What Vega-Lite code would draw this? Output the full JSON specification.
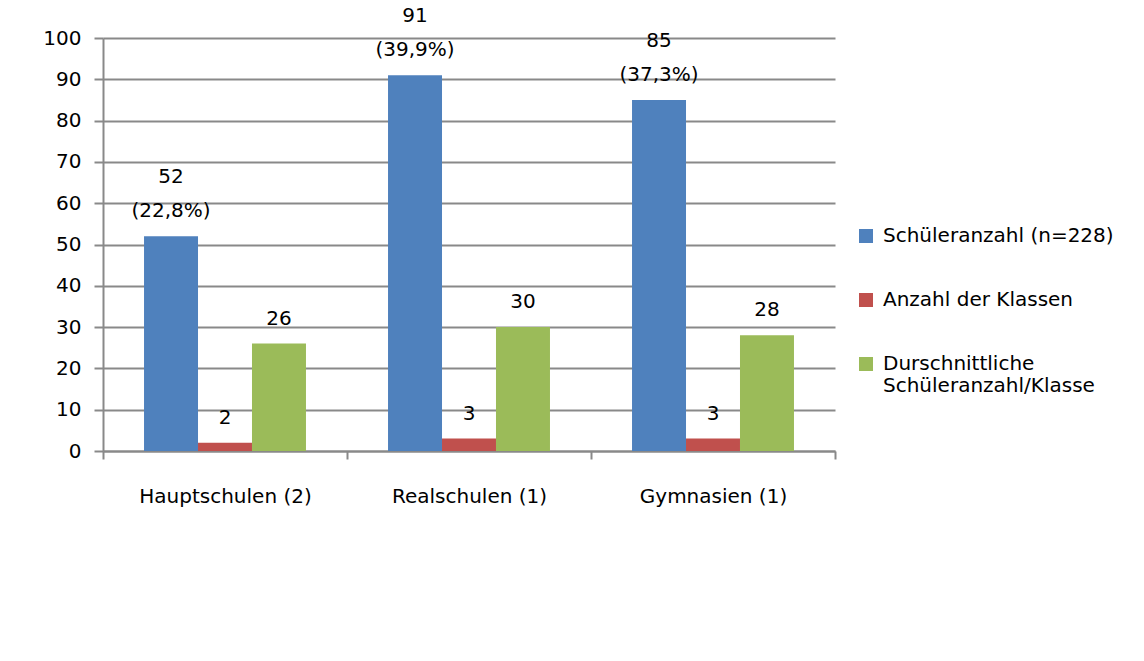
{
  "$schema": "https://vega.github.io/schema/vega-lite/v6.json",
  "autosize": {"type": "none"},
  "padding": {"left": 103, "top": 38, "right": 309, "bottom": 210},
  "width": 732,
  "height": 413,
  "background": "white",
  "config": {
    "font": "DejaVu Sans",
    "view": {"stroke": null},
    "axis": {"labelFont": "DejaVu Sans", "labelFontSize": 20, "labelColor": "#000000"},
    "legend": {"labelFont": "DejaVu Sans", "labelFontSize": 20, "labelColor": "#000000"}
  },
  "data": {
    "values": [
      {"school": "Hauptschulen (2)", "series": "Schüleranzahl (n=228)", "value": 52, "line1": "52", "line2": "(22,8%)"},
      {"school": "Hauptschulen (2)", "series": "Anzahl der Klassen", "value": 2, "line1": "", "line2": "2"},
      {"school": "Hauptschulen (2)", "series": "Durschnittliche Schüleranzahl/Klasse", "value": 26, "line1": "", "line2": "26"},
      {"school": "Realschulen (1)", "series": "Schüleranzahl (n=228)", "value": 91, "line1": "91", "line2": "(39,9%)"},
      {"school": "Realschulen (1)", "series": "Anzahl der Klassen", "value": 3, "line1": "", "line2": "3"},
      {"school": "Realschulen (1)", "series": "Durschnittliche Schüleranzahl/Klasse", "value": 30, "line1": "", "line2": "30"},
      {"school": "Gymnasien (1)", "series": "Schüleranzahl (n=228)", "value": 85, "line1": "85", "line2": "(37,3%)"},
      {"school": "Gymnasien (1)", "series": "Anzahl der Klassen", "value": 3, "line1": "", "line2": "3"},
      {"school": "Gymnasien (1)", "series": "Durschnittliche Schüleranzahl/Klasse", "value": 28, "line1": "", "line2": "28"}
    ]
  },
  "encoding": {
    "x": {
      "field": "school", "type": "nominal", "sort": null,
      "scale": {"paddingInner": 0, "paddingOuter": 0},
      "axis": {
        "title": null, "labelAngle": 0, "tickBand": "extent", "grid": false,
        "domainColor": "#898989", "domainWidth": 2,
        "tickColor": "#898989", "tickWidth": 2, "tickSize": 8,
        "labelPadding": 27
      }
    },
    "xOffset": {
      "field": "series", "type": "nominal",
      "sort": ["Schüleranzahl (n=228)", "Anzahl der Klassen", "Durschnittliche Schüleranzahl/Klasse"],
      "scale": {"paddingInner": 0, "paddingOuter": 0.76}
    },
    "y": {
      "field": "value", "type": "quantitative",
      "scale": {"domain": [0, 100], "nice": false},
      "axis": {
        "title": null, "values": [0, 10, 20, 30, 40, 50, 60, 70, 80, 90, 100],
        "grid": true, "gridColor": "#898989", "gridWidth": 2,
        "domainColor": "#898989", "domainWidth": 2,
        "tickColor": "#898989", "tickWidth": 2, "tickSize": 9,
        "labelPadding": 13
      }
    }
  },
  "layer": [
    {
      "mark": {"type": "bar"},
      "encoding": {
        "color": {
          "field": "series", "type": "nominal",
          "scale": {
            "domain": ["Schüleranzahl (n=228)", "Anzahl der Klassen", "Durschnittliche Schüleranzahl/Klasse"],
            "range": ["#4F81BD", "#C0504D", "#9BBB59"]
          },
          "legend": {
            "title": null, "orient": "none", "legendX": 753, "legendY": 188,
            "symbolType": "square", "symbolSize": 196, "symbolStrokeWidth": 0,
            "labelOffset": 7, "rowPadding": 44, "padding": 0, "labelLimit": 400,
            "labelExpr": "datum.label == 'Durschnittliche Schüleranzahl/Klasse' ? ['Durschnittliche', 'Schüleranzahl/Klasse'] : datum.label"
          }
        }
      }
    },
    {
      "mark": {"type": "text", "baseline": "bottom", "align": "center", "dy": -15, "fontSize": 20, "color": "#000000"},
      "encoding": {
        "text": {"field": "line2"}
      }
    },
    {
      "mark": {"type": "text", "baseline": "bottom", "align": "center", "dy": -49, "fontSize": 20, "color": "#000000"},
      "encoding": {
        "text": {"field": "line1"}
      }
    }
  ]
}
